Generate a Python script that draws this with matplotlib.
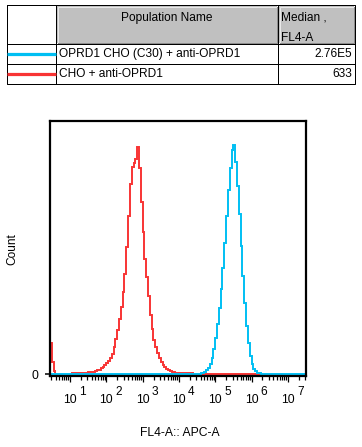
import numpy as np
import matplotlib
matplotlib.use("Agg")
import matplotlib.pyplot as plt
from matplotlib.patches import Rectangle
from matplotlib.ticker import LogLocator, NullFormatter, FixedLocator

plt.rcParams['font.family'] = ['Liberation Sans', 'DejaVu Sans']

# ---------------- data ----------------
populations = ["OPRD1 CHO (C30) + anti-OPRD1", "CHO + anti-OPRD1"]
medians = ["2.76E5", "633"]
pop_colors = ["#00bff3", "#f83434"]
header = ["Population Name", "Median ,\nFL4-A"]
x_label = "FL4-A:: APC-A"
y_label = "Count"
decade_exps = [1, 2, 3, 4, 5, 6, 7]

# x-axis range in log10 units
x_log_min, x_log_max = 0.45, 7.5
bin_w = 0.05  # histogram bin width (log10 decades)

# red histogram (CHO + anti-OPRD1): left-edge pile-up bins
red_spike_start = 0.45
red_spike_counts = [31, 12, 3]
# red main histogram, bins starting at 10^1.05
red_start = 1.05
red_counts = [1, 1, 1, 1, 1, 1.2, 1.3, 1.5, 1.7, 2, 2, 2.3, 2.7, 3.2, 4, 4.8,
              6, 7.5, 9, 11, 13.5, 16.5, 20.5, 27, 35, 44, 55, 67, 82, 100,
              127, 158, 190, 207, 211, 215, 227, 206, 172, 142, 115, 97, 78,
              59, 45, 34, 27, 21, 16, 12, 9, 7, 5, 4, 3, 2.3, 2, 1.8, 1.6,
              1.5, 1.5, 1.4, 1.3, 1.2, 1.1, 1, 1, 0.8]
red_tail_level = 0.3
red_tail_end = 6.25

# blue histogram (OPRD1 CHO (C30) + anti-OPRD1), bins starting at 10^4.5
blue_start = 4.50
blue_counts = [0.3, 0.5, 1, 1.5, 2.5, 4, 6, 10, 16, 25, 36, 50, 66, 85, 106,
               131, 158, 184, 206, 224, 229, 212, 188, 160, 128, 98, 71, 48,
               31, 18, 10, 5.5, 3, 1.8, 1, 0.5]

# ---------------- figure ----------------
W, H = 362, 447
fig = plt.figure(figsize=(W / 100, H / 100), dpi=100)

def px(x0, y0, x1, y1):
    return [x0 / W, 1 - y1 / H, (x1 - x0) / W, (y1 - y0) / H]

# overlay for the table (pixel coordinates)
ov = fig.add_axes([0, 0, 1, 1])
ov.set_xlim(0, W)
ov.set_ylim(H, 0)
ov.axis("off")

PX = 0.72  # 1 px in points
tx0, tx1, ty0, ty1 = 7, 355, 5, 84
c1, c2 = 56, 278
r1, r2 = 44, 64

# header gray cells with bevel
for (a, b) in [(c1 + 1, c2 - 1), (c2 + 1, tx1 - 1)]:
    ov.add_patch(Rectangle((a, ty0 + 1), b - a, r1 - ty0 - 2, facecolor="#c0c0c0",
                           edgecolor="none"))
    ov.plot([a + 0.5, a + 0.5, b - 0.5], [r1 - 1, ty0 + 1.5, ty0 + 1.5],
            color="#e8e8e8", lw=PX)
    ov.plot([a + 0.5, b - 0.5, b - 0.5], [r1 - 1.5, r1 - 1.5, ty0 + 1.5],
            color="#8c8c8c", lw=PX)

# grid lines
lk = dict(color="black", lw=1.0 * PX, solid_capstyle="projecting")
ov.plot([tx0, tx1, tx1, tx0, tx0], [ty0, ty0, ty1, ty1, ty0], **lk)
ov.plot([c1, c1], [ty0, ty1], **lk)
ov.plot([c2, c2], [ty0, ty1], **lk)
ov.plot([tx0, tx1], [r1, r1], **lk)
ov.plot([tx0, tx1], [r2, r2], **lk)

fs = 8.6
ov.text((c1 + c2) / 2, 18, header[0], ha="center", va="center", fontsize=fs)
h2 = header[1].split("\n")
ov.text(c2 + 3, 18, h2[0], ha="left", va="center", fontsize=fs)
ov.text(c2 + 3, 38, h2[1], ha="left", va="center", fontsize=fs)

row_y = [54, 74]
for i, (name, med, col) in enumerate(zip(populations, medians, pop_colors)):
    yy = row_y[i]
    ov.plot([tx0, c1], [yy - 0.5, yy - 0.5], color=col, lw=3.2 * PX,
            solid_capstyle="butt")
    ov.text(c1 + 3, yy, name, ha="left", va="center", fontsize=fs)
    ov.text(tx1 - 3, yy, med, ha="right", va="center", fontsize=fs)

# ---------------- histogram axes ----------------
ax = fig.add_axes(px(50, 121, 306, 376))
ax.set_xscale("log")
ax.set_xlim(10 ** x_log_min, 10 ** x_log_max)
ax.set_ylim(-1.7, 253.3)

def edges_from(start, n):
    return 10 ** (start + bin_w * np.arange(n + 1))

lw_h = 1.4
# red
ax.stairs(red_spike_counts, edges_from(red_spike_start, len(red_spike_counts)),
          color=pop_colors[1], lw=lw_h, baseline=0)
red_edges = np.concatenate([edges_from(red_start, len(red_counts)), [10 ** red_tail_end]])
ax.stairs(list(red_counts) + [red_tail_level], red_edges, color=pop_colors[1],
          lw=lw_h, baseline=0)
# blue (with zero bins out to the axis limits)
blue_inner = edges_from(blue_start, len(blue_counts))
blue_edges = np.concatenate([[10 ** x_log_min], blue_inner, [10 ** x_log_max]])
ax.stairs([0] + list(blue_counts) + [0], blue_edges, color=pop_colors[0],
          lw=lw_h, baseline=0)

for s in ax.spines.values():
    s.set_linewidth(1.6)
    s.set_zorder(1)

ax.xaxis.set_major_locator(FixedLocator([10.0 ** k for k in decade_exps]))
ax.xaxis.set_minor_locator(LogLocator(base=10, subs=np.arange(2, 10), numticks=50))
ax.xaxis.set_major_formatter(NullFormatter())
ax.xaxis.set_minor_formatter(NullFormatter())
ax.tick_params(axis="x", which="major", length=4.2, width=0.9, direction="out")
ax.tick_params(axis="x", which="minor", length=3.0, width=0.9, direction="out")
ax.set_yticks([0])
ax.set_yticklabels(["0"])
ax.tick_params(axis="y", which="major", length=3.6, width=1.1, pad=4.8,
               labelsize=8.8)
ax.tick_params(axis="y", which="minor", left=False)

for k in decade_exps:
    ax.annotate("10", xy=(10.0 ** k, 0), xycoords=("data", "axes fraction"),
                xytext=(0, -19.4), textcoords="offset points", ha="center",
                va="baseline", fontsize=8.8)
    ax.annotate(str(k), xy=(10.0 ** k, 0), xycoords=("data", "axes fraction"),
                xytext=(6.6, -13.6), textcoords="offset points", ha="left",
                va="baseline", fontsize=8.6)

fig.text(12 / W, 1 - 249 / H, y_label, rotation=90, ha="center", va="center",
         fontsize=8.6)
fig.text(180 / W, 1 - 433 / H, x_label, ha="center", va="center", fontsize=8.7)

fig.savefig("out.png", dpi=100)
